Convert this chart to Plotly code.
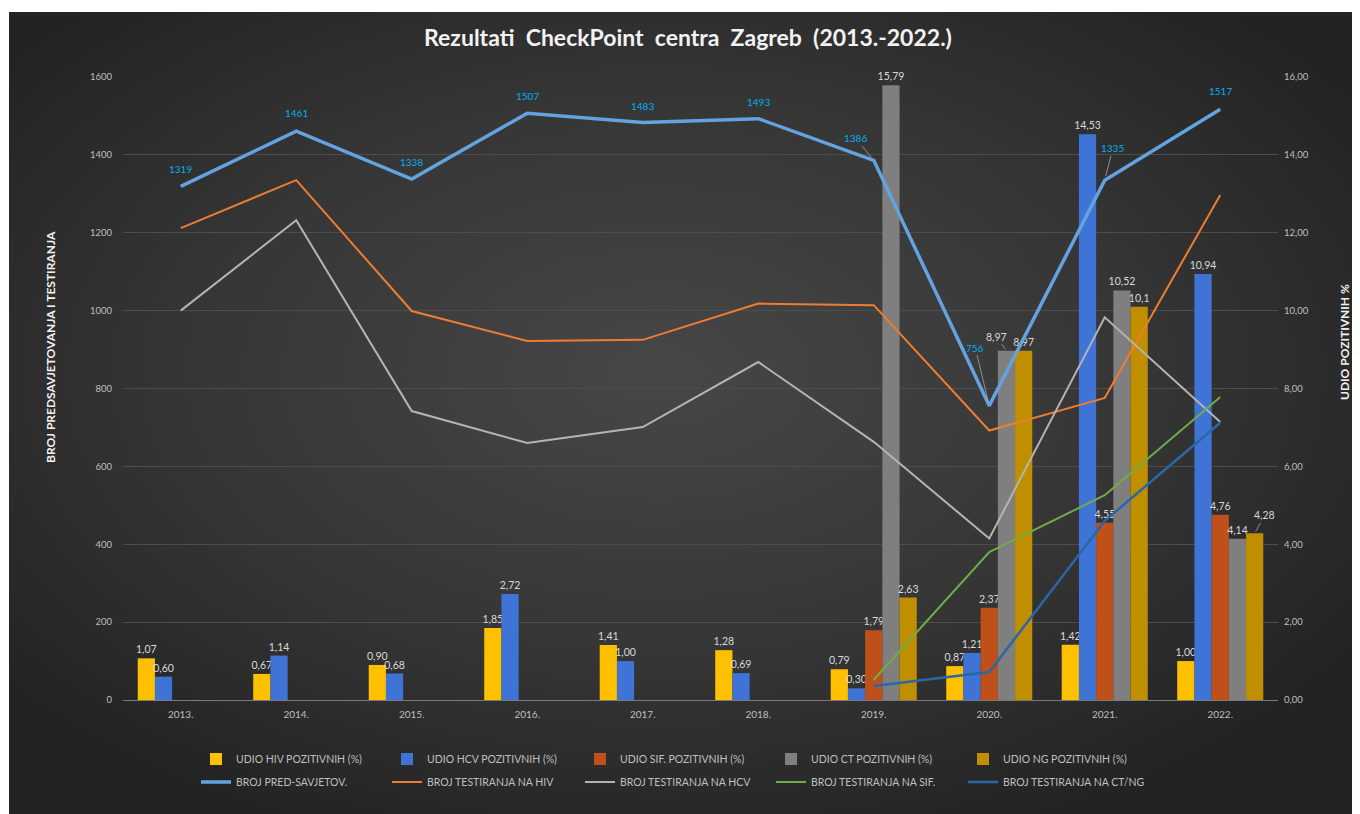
import base64
import plotly.graph_objects as go

years = ["2013.", "2014.", "2015.", "2016.", "2017.", "2018.", "2019.", "2020.", "2021.", "2022."]

# bar series (right axis, %)
hiv_pct = [1.07, 0.67, 0.90, 1.85, 1.41, 1.28, 0.79, 0.87, 1.42, 1.00]
hcv_pct = [0.60, 1.14, 0.68, 2.72, 1.00, 0.69, 0.30, 1.21, 14.53, 10.94]
sif_pct = [None, None, None, None, None, None, 1.79, 2.37, 4.55, 4.76]
ct_pct = [None, None, None, None, None, None, 15.79, 8.97, 10.52, 4.14]
ng_pct = [None, None, None, None, None, None, 2.63, 8.97, 10.1, 4.28]

hiv_lbl = ["1,07", "0,67", "0,90", "1,85", "1,41", "1,28", "0,79", "0,87", "1,42", "1,00"]
hcv_lbl = ["0,60", "1,14", "0,68", "2,72", "1,00", "0,69", "0,30", "1,21", "14,53", "10,94"]
sif_lbl = ["", "", "", "", "", "", "1,79", "2,37", "4,55", "4,76"]
ct_lbl = ["", "", "", "", "", "", "15,79", "8,97", "10,52", "4,14"]
ng_lbl = ["", "", "", "", "", "", "2,63", "8,97", "10,1", "4,28"]

# line series (left axis, counts)
pred_savjet = [1319, 1461, 1338, 1507, 1483, 1493, 1386, 756, 1335, 1517]
test_hiv = [1212, 1335, 999, 922, 925, 1018, 1014, 692, 776, 1297]
test_hcv = [1000, 1232, 742, 660, 701, 868, 663, 415, 983, 714]
test_sif = [None, None, None, None, None, None, 52, 380, 526, 778]
test_ctng = [None, None, None, None, None, None, 36, 72, 460, 712]

left_ticks = [0, 200, 400, 600, 800, 1000, 1200, 1400, 1600]
left_ticktext = ["0", "200", "400", "600", "800", "1000", "1200", "1400", "1600"]
right_ticks = [0, 2, 4, 6, 8, 10, 12, 14, 16]
right_ticktext = ["0,00", "2,00", "4,00", "6,00", "8,00", "10,00", "12,00", "14,00", "16,00"]

# label placement styles for the PRED-SAVJETOV. labels (pixel offsets) and leader lines
pred_dx = [0, 0, 0, 0, 0, 0, -18, -14, 8, 0]
pred_dy = [-17, -18, -17, -17, -17, -17, -22, -58, -32, -18]
pred_leader = [False, False, False, False, False, False, True, True, True, False]

FONT = "Lato, sans-serif"
TXT = "#bfbfbf"
LBL = "#d9d9d9"

W, H = 1352, 806
L, R, T, B = 115, 82, 69, 114
PW, PH = W - L - R, H - T - B
BARGAP = 0.255
NB = 5


def px(x):  # reference-picture pixel x -> paper fraction
    return (x - 8 - L) / PW


def py(y):  # reference-picture pixel y -> paper fraction
    return (H - B - (y - 8)) / PH


fig = go.Figure()

bars = [
    ("UDIO HIV POZITIVNIH (%)", hiv_pct, hiv_lbl, "#ffc000"),
    ("UDIO HCV POZITIVNIH (%)", hcv_pct, hcv_lbl, "#3f74d6"),
    ("UDIO SIF. POZITIVNIH (%)", sif_pct, sif_lbl, "#c0501a"),
    ("UDIO CT POZITIVNIH (%)", ct_pct, ct_lbl, "#7f7f7f"),
    ("UDIO NG POZITIVNIH (%)", ng_pct, ng_lbl, "#bf8f00"),
]
lines = [
    ("BROJ PRED-SAVJETOV.", pred_savjet, "#62a3e0", 3.5),
    ("BROJ TESTIRANJA NA HIV", test_hiv, "#ed7d31", 2),
    ("BROJ TESTIRANJA NA HCV", test_hcv, "#b4b4b4", 2),
    ("BROJ TESTIRANJA NA SIF.", test_sif, "#70ad47", 2),
    ("BROJ TESTIRANJA NA CT/NG", test_ctng, "#2a67a8", 2.5),
]
legend_ids = ["legend", "legend2", "legend3", "legend4", "legend5"]

# bar labels that get a leader line instead of sitting on top: (series index, point index, dx, dy)
moved = [(3, 7, -10, -14), (4, 9, 10, -18)]
moved_set = {(s, p) for s, p, _, _ in moved}

for si, (name, vals, lbls, col) in enumerate(bars):
    txt = ["" if (si, pi) in moved_set else t for pi, t in enumerate(lbls)]
    fig.add_trace(go.Bar(
        x=years, y=vals, name=name, text=txt, textposition="outside",
        textfont=dict(color=LBL, size=10.5, family=FONT), constraintext="none",
        cliponaxis=False, marker=dict(color=col, line=dict(width=0)),
        yaxis="y", legend=legend_ids[si], legendgroup=name,
    ))

for li, (name, vals, col, w) in enumerate(lines):
    fig.add_trace(go.Scatter(
        x=years, y=vals, name=name, mode="lines",
        line=dict(color=col, width=w), yaxis="y2", legend=legend_ids[li], legendgroup=name,
    ))

annotations = []
for i, v in enumerate(pred_savjet):
    if pred_leader[i]:
        annotations.append(dict(
            x=i, y=v, xref="x", yref="y2", text=str(v), showarrow=True,
            ax=pred_dx[i], ay=pred_dy[i], arrowhead=0, arrowwidth=0.8, arrowcolor="#a6a6a6",
            standoff=4, font=dict(color="#00b0f0", size=10, family=FONT)))
    else:
        annotations.append(dict(
            x=i, y=v, xref="x", yref="y2", text=str(v), showarrow=False,
            xshift=pred_dx[i], yshift=-pred_dy[i],
            font=dict(color="#00b0f0", size=10, family=FONT)))

slot_w = PW / len(years) * (1 - BARGAP) / NB
for si, pi, dx, dy in moved:
    vals, lbls = bars[si][1], bars[si][2]
    annotations.append(dict(
        x=pi, y=vals[pi], xref="x", yref="y", text=lbls[pi], showarrow=True,
        xshift=(si - (NB - 1) / 2) * slot_w, ax=dx, ay=dy, arrowhead=0, arrowwidth=0.8,
        arrowcolor="#a6a6a6", standoff=2, font=dict(color=LBL, size=10.5, family=FONT)))

annotations += [
    dict(text="<b>BROJ PREDSAVJETOVANJA I TESTIRANJA</b>", xref="paper", yref="paper",
         x=px(50), y=py(347), xanchor="center", yanchor="middle", textangle=-90,
         showarrow=False, font=dict(size=12, color="#f2f2f2", family=FONT)),
    dict(text="<b>UDIO POZITIVNIH %</b>", xref="paper", yref="paper",
         x=px(1345), y=py(342), xanchor="center", yanchor="middle", textangle=-90,
         showarrow=False, font=dict(size=12, color="#f2f2f2", family=FONT)),
]

svg = ("<svg xmlns='http://www.w3.org/2000/svg' width='1351' height='802' viewBox='0 0 1351 802' "
       "preserveAspectRatio='none'><defs><radialGradient id='g' cx='48%' cy='45%' r='62%'>"
       "<stop offset='0' stop-color='#474747'/><stop offset='0.55' stop-color='#363636'/>"
       "<stop offset='1' stop-color='#232323'/></radialGradient></defs>"
       "<rect width='1351' height='802' fill='url(#g)'/></svg>")
src = "data:image/svg+xml;base64," + base64.b64encode(svg.encode()).decode()

legend_text_x = [236, 427, 620, 811, 1003]
legend_layout = {}
for k, lid in enumerate(legend_ids):
    legend_layout[lid] = dict(
        orientation="v", x=px(legend_text_x[k] - 40), y=py(770.5), xanchor="left", yanchor="middle",
        bgcolor="rgba(0,0,0,0)", font=dict(size=10.5, color=TXT, family=FONT),
        itemwidth=30, traceorder="grouped", tracegroupgap=4)

fig.update_layout(
    width=W, height=H,
    margin=dict(l=L, r=R, t=T, b=B),
    paper_bgcolor="white", plot_bgcolor="rgba(0,0,0,0)",
    barmode="group", bargap=BARGAP, bargroupgap=0,
    font=dict(family=FONT, color=TXT, size=10),
    images=[dict(source=src, xref="paper", yref="paper", x=px(9), y=py(12),
                 sizex=px(1362) - px(9), sizey=py(12) - py(816), sizing="stretch",
                 xanchor="left", yanchor="top", layer="below")],
    title=dict(text="<b>Rezultati  CheckPoint  centra  Zagreb  (2013.-2022.)</b>",
               x=680 / W, xanchor="center", y=1 - 30 / H, yanchor="middle",
               font=dict(family=FONT, size=23, color="#f2f2f2")),
    xaxis=dict(type="category", range=[-0.5, len(years) - 0.5], showgrid=False, showline=True,
               linecolor="#7a7a7a", linewidth=1, ticks="", tickfont=dict(size=10, color=TXT),
               zeroline=False, ticklabelstandoff=5),
    yaxis=dict(range=[0, 16], side="right", tickvals=right_ticks, ticktext=right_ticktext,
               showgrid=True, gridcolor="#4d4d4d", gridwidth=1, zeroline=False,
               tickfont=dict(size=9.5, color=TXT), ticks="", showline=False, ticklabelstandoff=5),
    yaxis2=dict(range=[0, 1600], side="left", overlaying="y", tickvals=left_ticks,
                ticktext=left_ticktext, showgrid=False, zeroline=False,
                tickfont=dict(size=9.5, color=TXT), ticks="", showline=False, ticklabelstandoff=10),
    annotations=annotations,
    showlegend=True,
    **legend_layout,
)

fig.write_html("out.html")
